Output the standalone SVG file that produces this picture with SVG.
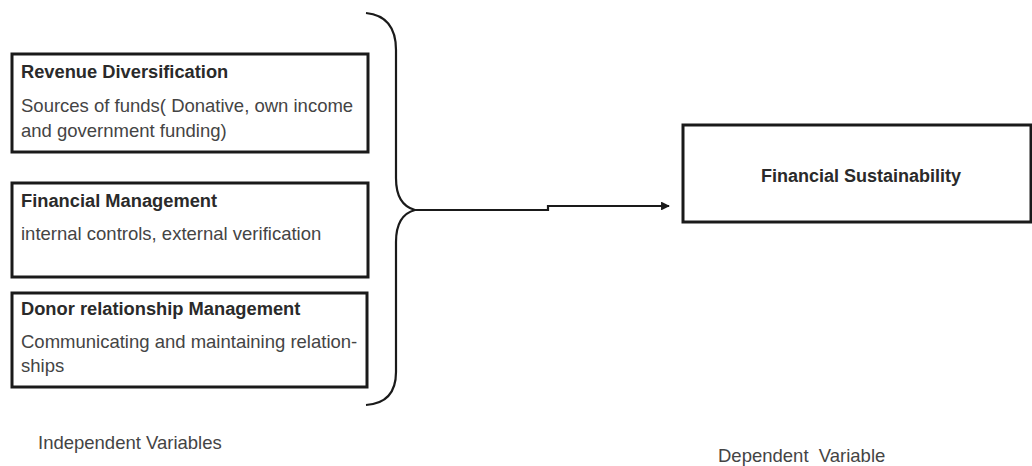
<svg xmlns="http://www.w3.org/2000/svg" width="1032" height="466" viewBox="0 0 1032 466">
  <style>
    .box { fill: #ffffff; stroke: #1a1a1a; stroke-width: 3; }
    .title { font-family: "Liberation Sans", Arial, sans-serif; font-size: 18.3px; font-weight: bold; fill: #2a2a2a; }
    .title-c { font-family: "Liberation Sans", Arial, sans-serif; font-size: 18px; font-weight: bold; fill: #2a2a2a; }
    .body { font-family: "Liberation Sans", Arial, sans-serif; font-size: 18.5px; fill: #444444; }
    .label { font-family: "Liberation Sans", Arial, sans-serif; font-size: 18.5px; fill: #444444; }
    .line { fill: none; stroke: #1a1a1a; stroke-width: 2.2; }
  </style>
  <defs>
    <marker id="arrow" viewBox="0 0 10 10" refX="9" refY="5" markerWidth="4" markerHeight="4" orient="auto" markerUnits="strokeWidth">
      <path d="M0,0 L10,5 L0,10 Z" fill="#1a1a1a"/>
    </marker>
  </defs>
  <rect width="1032" height="466" fill="#ffffff"/>

  <g id="revenue-diversification">
    <rect class="box" x="12" y="54" width="356" height="98"/>
    <text class="title" x="21" y="78">Revenue Diversification</text>
    <text class="body" x="21" y="112">Sources of funds( Donative, own income</text>
    <text class="body" x="21" y="137">and government funding)</text>
  </g>

  <g id="financial-management">
    <rect class="box" x="12" y="183" width="356" height="94"/>
    <text class="title" x="21" y="207">Financial Management</text>
    <text class="body" x="21" y="240">internal controls, external verification</text>
  </g>

  <g id="donor-relationship-management">
    <rect class="box" x="12" y="293" width="355" height="94"/>
    <text class="title" x="21" y="315">Donor relationship Management</text>
    <text class="body" x="21" y="348">Communicating and maintaining relation-</text>
    <text class="body" x="21" y="372">ships</text>
  </g>

  <g id="financial-sustainability">
    <rect class="box" x="683" y="125" width="348" height="97"/>
    <text class="title-c" x="861" y="182" text-anchor="middle">Financial Sustainability</text>
  </g>

  <g id="connectors">
    <path class="line" d="M366,13 Q396,16 396,50 L396,178 Q396,205 415,210 Q396,215 396,242 L396,372 Q396,403 366,405"/>
    <path class="line" d="M415,210 L548,210 L548,206 L669,206" marker-end="url(#arrow)"/>
  </g>

  <g id="labels">
    <text class="label" x="38" y="449">Independent Variables</text>
    <text class="label" x="718" y="462" xml:space="preserve">Dependent  Variable</text>
  </g>
</svg>
